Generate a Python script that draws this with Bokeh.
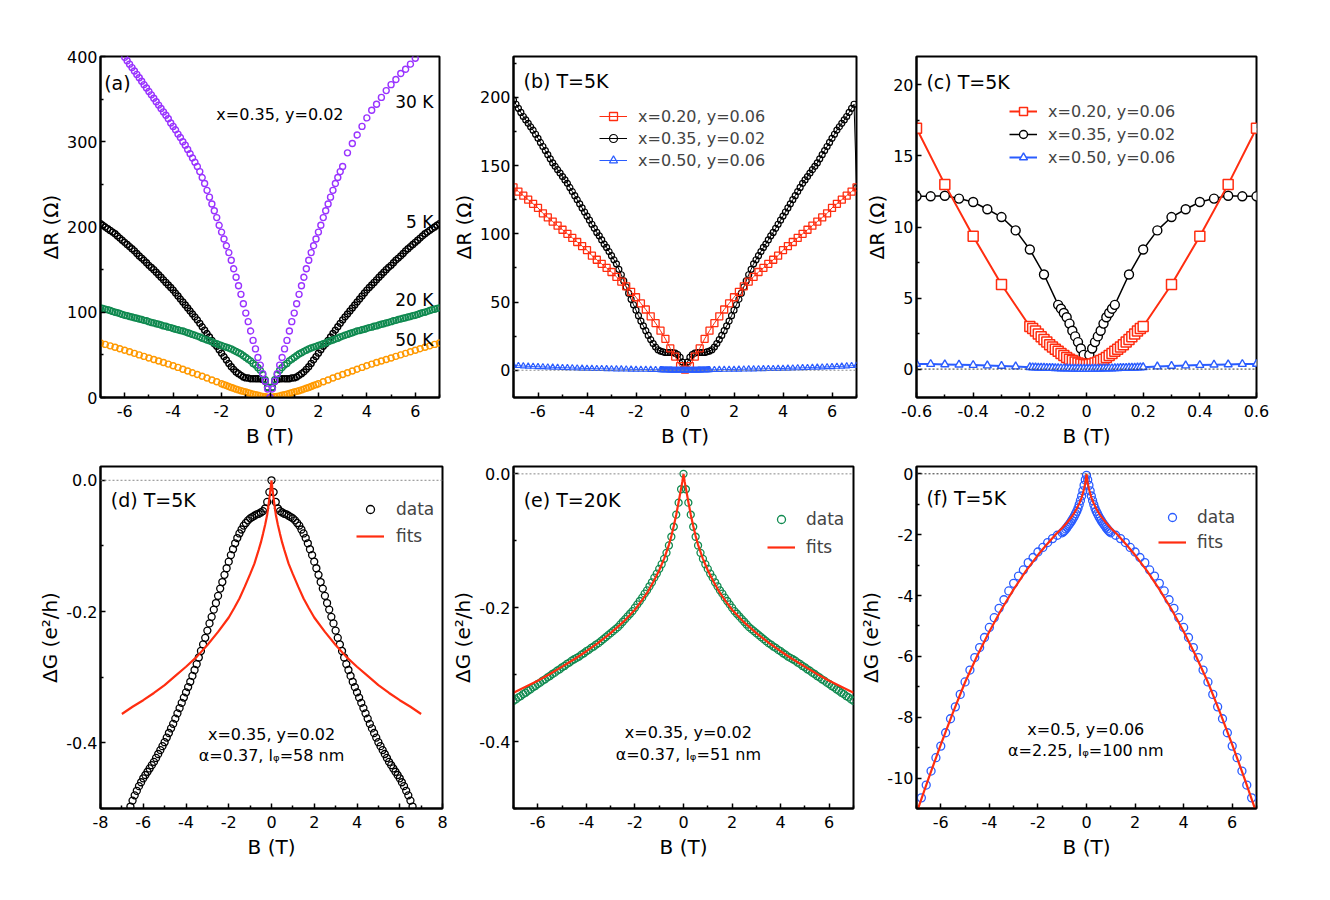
from bokeh.plotting import figure
from bokeh.models import (Range1d, FixedTicker, CustomJSTickFormatter, Label,
                          Legend, LegendItem, Span)
from bokeh.layouts import row, column
from bokeh.embed import file_html
from bokeh.resources import INLINE

FONT = "DejaVu Sans"
PURPLE = "#9933FF"
BLACK = "#000000"
GREEN = "#108A50"
ORANGE = "#FF9900"
RED = "#FF2D10"
BLUE = "#2A5CFF"


def steps(a, b, d):
    n = int(round((b - a) / d))
    return [round(a + i * d, 4) for i in range(n + 1)]


def mirror(bpos, vpos):
    # the field sweeps are symmetric in B: negative half = reflection of the read positive half
    assert len(bpos) == len(vpos), (len(bpos), len(vpos))
    xs = [-b for b in bpos[:0:-1]] + list(bpos)
    ys = list(vpos[:0:-1]) + list(vpos)
    return xs, ys


# ---------------- panel (a): x=0.35, y=0.02, four temperatures ----------------
A_B_HALF = steps(0, 7, 0.1)
A_5K_HALF = [0, 12, 19, 21, 22, 22, 22, 22, 22, 23,
             23, 24, 26, 28, 30, 33, 36, 40, 44, 48,
             52, 56, 60, 63, 67, 71, 75, 79, 83, 87,
             91, 94.5, 98, 101.5, 105, 108.5, 112, 115.5, 119, 122.5,
             126, 129, 132, 135, 138, 141, 144, 147, 150, 152.5,
             155, 158, 161, 163.5, 166, 169, 172, 174.5, 177, 179.5,
             182, 184.5, 187, 189.5, 192, 194, 196, 198, 200, 202,
             204]
A_20K_HALF = [0, 12, 21, 27, 32, 35, 38, 40, 43, 45,
              47, 49, 51, 52.5, 54, 55.5, 57, 58, 59, 60,
              61, 62, 63, 64, 65.5, 66.5, 67.5, 68.5, 69.5, 71,
              72, 73, 74, 75, 76, 77, 78, 78.5, 79.5, 80,
              81, 82, 82.5, 83.5, 84, 85, 86, 86.5, 87.5, 88,
              89, 90, 90.5, 91.5, 92, 93, 93.5, 94.5, 95, 96,
              96.5, 97.5, 98.5, 99.5, 100, 101, 102, 103, 103.5, 104.5,
              105]
A_50K_B_HALF = steps(0, 2, 0.1) + steps(2.2, 7, 0.2)
A_50K_HALF = [0, 0.3, 0.8, 1.3, 1.9, 2.6, 3.3, 4.0, 4.8, 5.6,
              6.4, 7.2, 8.0, 8.9, 9.8, 10.8, 11.8, 12.9, 14.0, 15.1, 16.2,
              18.5, 20.6, 22.8, 25.0, 27.0, 29.0, 31.1, 33.2, 35.3, 37.3,
              39.2, 41.0, 42.8, 44.6, 46.4, 48.2, 50.0, 51.8, 53.6, 55.5,
              57.2, 58.9, 60.6, 62.3, 64.0]
A_30K_B_LEFT = steps(-6.0, -3.1, 0.1)
A_30K_LEFT = [399, 395, 391, 387, 383, 379, 375, 371, 367, 363,
              359, 355, 351, 347, 343, 339, 335, 331, 327, 322,
              318, 314, 309, 305, 300, 296, 291, 286, 281, 276]
A_30K_B_CENTER_HALF = steps(0, 3, 0.1)
A_30K_CENTER_HALF = [0, 10, 19, 28, 38, 47, 57, 67, 78, 89,
                     99, 110, 121, 131, 141, 151, 161, 170, 178, 186,
                     194, 202, 211, 219, 227, 235, 243, 251, 258, 265,
                     271]
A_30K_B_RIGHT = steps(3.2, 6.0, 0.2)
A_30K_RIGHT = [287, 298, 308, 318, 328, 337, 344, 352, 360, 367,
               373, 380, 385, 391, 398]
A_TEMPS = ["30 K", "5 K", "20 K", "50 K"]

# ---------------- panel (b): T = 5 K, three compositions ----------------
SAMPLES = ["x=0.20, y=0.06", "x=0.35, y=0.02", "x=0.50, y=0.06"]
B_RED_B_HALF = steps(0, 7, 0.2)
B_RED_HALF = [0.5, 3, 10, 16, 23, 29, 34.5, 39.5, 44.5, 49,
              53.5, 57.5, 61.5, 65, 68.5, 72, 75, 78, 81, 84,
              88, 91, 94, 97, 100, 103, 106, 109, 112, 115,
              119, 122, 125, 128, 131, 134]
B_BLACK_B_HALF = steps(0, 6.9, 0.1)
B_BLACK_HALF = [3, 6, 9.5, 11.5, 12.5, 13, 13, 13, 13, 13.5,
                14, 15, 17, 19.5, 22.5, 25.5, 29, 32.5, 36, 40,
                44, 48, 52, 56.5, 61, 65.5, 70, 74, 78, 81,
                84, 87, 90, 92.5, 95.5, 98.5, 101, 104, 107, 110,
                113, 116, 119, 122, 125, 128, 131, 134, 137, 139.5,
                142, 144.5, 147, 149.5, 152, 155, 158, 161, 164, 167,
                170, 173, 176, 178.5, 181, 183.5, 186, 189, 192, 195]
B_BLACK_END_B = [-7.0, 7.0]
B_BLACK_END_V = [198, 134]
B_BLUE_B_HALF = steps(0, 1, 0.05) + steps(1.2, 7, 0.2)
B_BLUE_HALF = [0, 0, 0, 0, 0, 0, 0, 0, 0.05, 0.05,
               0.05, 0.1, 0.1, 0.1, 0.15, 0.15, 0.2, 0.2, 0.25, 0.25, 0.3,
               0.4, 0.45, 0.5, 0.55, 0.6, 0.65, 0.7, 0.8, 0.85, 0.9,
               1.0, 1.05, 1.1, 1.2, 1.3, 1.4, 1.5, 1.6, 1.75, 1.85,
               2.0, 2.1, 2.25, 2.4, 2.5, 2.7, 2.85, 3.05, 3.25, 3.5]

# ---------------- panel (c): T = 5 K, low field ----------------
C_RED_B_HALF = steps(0, 0.2, 0.01) + [0.3, 0.4, 0.5, 0.6]
C_RED_HALF = [0.3, 0.32, 0.36, 0.42, 0.5, 0.6, 0.7, 0.82, 0.95, 1.1,
              1.25, 1.4, 1.55, 1.72, 1.9, 2.08, 2.27, 2.47, 2.68, 2.85, 3.0,
              5.95, 9.35, 13.0, 16.95]
C_BLACK_B_HALF = steps(0, 0.1, 0.01) + steps(0.15, 0.6, 0.05)
C_BLACK_HALF = [0.4, 1.0, 1.45, 1.9, 2.3, 2.7, 3.2, 3.65, 3.95, 4.25, 4.52,
                6.66, 8.42, 9.76, 10.7, 11.25, 11.76, 12.0, 12.2, 12.16, 12.16]
C_BLUE_B_HALF = steps(0, 0.2, 0.01) + steps(0.25, 0.6, 0.05)
C_BLUE_HALF = [0.02, 0.02, 0.02, 0.03, 0.03, 0.03, 0.04, 0.04, 0.05, 0.05,
               0.06, 0.06, 0.07, 0.08, 0.08, 0.09, 0.1, 0.1, 0.11, 0.12, 0.13,
               0.18, 0.22, 0.25, 0.28, 0.31, 0.33, 0.35, 0.36]

# ---------------- panels (d)-(f): magnetoconductance and fits ----------------
FIT_B_HALF = [0, 0.05, 0.1, 0.2, 0.3, 0.4, 0.5, 0.6, 0.8, 1.0, 1.25, 1.5,
              1.75, 2.0, 2.5, 3.0, 3.5, 4.0, 4.5, 5.0, 5.5, 6.0, 6.5, 7.0]
D_B_HALF = steps(0, 6.6, 0.1)
D_DATA_HALF = [0, -0.018, -0.033, -0.043, -0.047, -0.049, -0.051, -0.052, -0.054, -0.056,
               -0.058, -0.061, -0.065, -0.069, -0.075, -0.081, -0.088, -0.096, -0.105, -0.114,
               -0.124, -0.134, -0.144, -0.155, -0.165, -0.176, -0.187, -0.197, -0.208, -0.218,
               -0.229, -0.240, -0.250, -0.260, -0.270, -0.280, -0.289, -0.298, -0.307, -0.315,
               -0.323, -0.331, -0.339, -0.347, -0.355, -0.363, -0.371, -0.378, -0.385, -0.392,
               -0.399, -0.405, -0.411, -0.417, -0.423, -0.429, -0.434, -0.439, -0.444, -0.449,
               -0.454, -0.460, -0.466, -0.473, -0.480, -0.488, -0.497]
D_FIT_HALF = [0, -0.015, -0.028, -0.052, -0.068, -0.082, -0.095, -0.106, -0.127, -0.143,
              -0.162, -0.18, -0.195, -0.209, -0.231, -0.251, -0.269, -0.284, -0.298, -0.312,
              -0.324, -0.335, -0.345, -0.356]
E_B_HALF = steps(0, 7, 0.1)
E_DATA_HALF = [0, -0.023, -0.043, -0.061, -0.079, -0.094, -0.107, -0.118, -0.127, -0.135,
               -0.142, -0.149, -0.155, -0.162, -0.168, -0.174, -0.179, -0.185, -0.190, -0.195,
               -0.200, -0.205, -0.209, -0.213, -0.217, -0.221, -0.225, -0.229, -0.232, -0.235,
               -0.238, -0.241, -0.244, -0.247, -0.250, -0.253, -0.255, -0.258, -0.260, -0.263,
               -0.265, -0.268, -0.270, -0.273, -0.275, -0.277, -0.279, -0.282, -0.284, -0.287,
               -0.289, -0.292, -0.294, -0.297, -0.299, -0.302, -0.304, -0.307, -0.309, -0.312,
               -0.314, -0.317, -0.319, -0.322, -0.324, -0.327, -0.329, -0.332, -0.334, -0.337,
               -0.339]
E_FIT_HALF = [0, -0.012, -0.022, -0.042, -0.061, -0.078, -0.093, -0.106, -0.127, -0.144,
              -0.162, -0.178, -0.191, -0.203, -0.222, -0.238, -0.252, -0.265, -0.277, -0.288,
              -0.299, -0.309, -0.318, -0.327]
F_B_HALF = steps(0, 1, 0.05) + steps(1.2, 6.8, 0.2)
F_DATA_HALF = [-0.05, -0.2, -0.38, -0.56, -0.73, -0.88, -1.01, -1.13, -1.23, -1.31,
               -1.39, -1.46, -1.53, -1.59, -1.65, -1.70, -1.76, -1.81, -1.86, -1.90, -1.94,
               -2.02, -2.13, -2.26, -2.42, -2.57, -2.75, -2.92, -3.16, -3.36, -3.60,
               -3.85, -4.14, -4.42, -4.73, -5.05, -5.38, -5.71, -6.04, -6.45, -6.84,
               -7.25, -7.66, -8.05, -8.51, -8.95, -9.33, -9.77, -10.23, -10.65]
F_FIT_HALF = [0, -0.3, -0.5, -0.78, -0.98, -1.14, -1.28, -1.4, -1.6, -1.78,
              -1.98, -2.2, -2.43, -2.67, -3.2, -3.8, -4.45, -5.18, -5.98, -6.85,
              -7.85, -8.9, -10.0, -11.15]

# ---------------- ticks ----------------
X7_T, X7_M = [-6, -4, -2, 0, 2, 4, 6], [-7, -5, -3, -1, 1, 3, 5, 7]
X8_T, X8_M = [-8, -6, -4, -2, 0, 2, 4, 6, 8], [-7, -5, -3, -1, 1, 3, 5, 7]
A_YT, A_YM = [0, 100, 200, 300, 400], [50, 150, 250, 350]
B_YT, B_YM = [0, 50, 100, 150, 200], [-25, 25, 75, 125, 175, 225]
C_XT, C_XM = [-0.6, -0.4, -0.2, 0, 0.2, 0.4, 0.6], [-0.5, -0.3, -0.1, 0.1, 0.3, 0.5]
C_YT, C_YM = [0, 5, 10, 15, 20], [2.5, 7.5, 12.5, 17.5]
G_YT, G_YM = [-0.4, -0.2, 0.0], [-0.5, -0.3, -0.1]
F_YT, F_YM = [-10, -8, -6, -4, -2, 0], [-11, -9, -7, -5, -3, -1]


def fmt(decimals, zero=None):
    if zero is None:
        return CustomJSTickFormatter(code=f"return tick.toFixed({decimals});")
    return CustomJSTickFormatter(
        code=f"return Math.abs(tick) < 1e-9 ? '{zero}' : tick.toFixed({decimals});")


def panel(xr, yr, bl, br, bt, bb, fw, fh, xt, xm, yt, ym, xf, yf, ylabel):
    p = figure(width=bl + fw + br, height=bt + fh + bb,
               x_range=Range1d(*xr), y_range=Range1d(*yr),
               output_backend="svg", toolbar_location=None,
               min_border_left=bl, min_border_right=br,
               min_border_top=bt, min_border_bottom=bb)
    p.grid.visible = False
    p.background_fill_color = "white"
    p.border_fill_color = "white"
    p.outline_line_color = "black"
    p.outline_line_width = 2
    p.outline_line_alpha = 1
    for ax, t, m, f in ((p.xaxis[0], xt, xm, xf), (p.yaxis[0], yt, ym, yf)):
        ax.ticker = FixedTicker(ticks=t, minor_ticks=m)
        ax.formatter = f
        ax.major_tick_in = 5
        ax.major_tick_out = 0
        ax.minor_tick_in = 3
        ax.minor_tick_out = 0
        ax.major_tick_line_width = 1.5
        ax.minor_tick_line_width = 1.5
        ax.axis_line_width = 2
        ax.major_label_text_font = FONT
        ax.major_label_text_font_size = "16px"
        ax.major_label_text_color = "black"
        ax.axis_label_text_font = FONT
        ax.axis_label_text_font_size = "20px"
        ax.axis_label_text_font_style = "normal"
        ax.axis_label_text_color = "black"
    p.xaxis.axis_label = "B (T)"
    p.yaxis.axis_label = ylabel
    p.xaxis.major_label_standoff = 7
    p.xaxis.axis_label_standoff = 4
    p.yaxis.major_label_standoff = 3
    p.yaxis.axis_label_standoff = 1
    return p


def text(p, x, y, s, size, align="left"):
    p.add_layout(Label(x=x, y=y, text=s, text_font=FONT, text_font_size=size,
                       text_align=align, text_baseline="middle", text_color="black"))


def legend(p, items, loc, spacing, size, standoff=11):
    lg = Legend(items=items, location=loc, glyph_width=28, glyph_height=20,
                label_height=20, label_standoff=standoff, spacing=spacing,
                padding=0, margin=0, border_line_alpha=0, background_fill_alpha=0,
                label_text_font=FONT, label_text_font_size=size)
    p.add_layout(lg)


def zero_line(p, color):
    p.add_layout(Span(location=0, dimension="width", line_color=color,
                      line_dash="2 2", line_width=1))


OHM = "\u0394R (\u03a9)"
GLAB = "\u0394G (e\u00b2/h)"

# ---------------- (a) ----------------
pa = panel((-7, 7), (0, 400), 100, 8, 56, 55, 339, 341, X7_T, X7_M, A_YT, A_YM,
           fmt(0), fmt(0), OHM)
x, y = mirror(A_B_HALF, A_5K_HALF)
pa.scatter(x, y, marker="circle", size=6, line_color=BLACK, fill_color=None, line_width=1.4)
x, y = mirror(A_B_HALF, A_20K_HALF)
pa.scatter(x, y, marker="circle", size=6, line_color=GREEN, fill_color=None, line_width=1.4)
x, y = mirror(A_50K_B_HALF, A_50K_HALF)
pa.scatter(x, y, marker="circle", size=6, line_color=ORANGE, fill_color=None, line_width=1.4)
xc, yc = mirror(A_30K_B_CENTER_HALF, A_30K_CENTER_HALF)
assert len(A_30K_B_LEFT) == len(A_30K_LEFT) and len(A_30K_B_RIGHT) == len(A_30K_RIGHT)
x = A_30K_B_LEFT + xc + A_30K_B_RIGHT
y = A_30K_LEFT + yc + A_30K_RIGHT
pa.scatter(x, y, marker="circle", size=6, line_color=PURPLE, fill_color=None, line_width=1.4)
text(pa, -6.85, 369, "(a)", "19px")
text(pa, 0.41, 332, "x=0.35, y=0.02", "16px", "center")
for lab, yy in zip(A_TEMPS, [347, 206, 114, 67]):
    text(pa, 6.75, yy, lab, "17px", "right")

# ---------------- (b) ----------------
pb = panel((-7, 7), (-20, 230), 66, 6, 56, 55, 343, 341, X7_T, X7_M, B_YT, B_YM,
           fmt(0), fmt(0), OHM)
zero_line(pb, "#888888")
x, y = mirror(B_BLACK_B_HALF, B_BLACK_HALF)
x = [B_BLACK_END_B[0]] + x + [B_BLACK_END_B[1]]
y = [B_BLACK_END_V[0]] + y + [B_BLACK_END_V[1]]
bl_l = pb.line(x, y, line_color=BLACK, line_width=1)
bl_s = pb.scatter(x, y, marker="circle", size=6, line_color=BLACK, fill_color=None, line_width=1.2)
x, y = mirror(B_RED_B_HALF, B_RED_HALF)
rd_l = pb.line(x, y, line_color=RED, line_width=1)
rd_s = pb.scatter(x, y, marker="square", size=7, line_color=RED, fill_color=None, line_width=1.3)
x, y = mirror(B_BLUE_B_HALF, B_BLUE_HALF)
bu_l = pb.line(x, y, line_color=BLUE, line_width=1)
bu_s = pb.scatter(x, y, marker="triangle", size=6, line_color=BLUE, fill_color=None, line_width=1.2)
legend(pb, [LegendItem(label=SAMPLES[0], renderers=[rd_l, rd_s]),
            LegendItem(label=SAMPLES[1], renderers=[bl_l, bl_s]),
            LegendItem(label=SAMPLES[2], renderers=[bu_l, bu_s])], (86, 227), 2, "16px")
text(pb, -6.59, 212, "(b) T=5K", "19px")

# ---------------- (c) ----------------
pc = panel((-0.6, 0.6), (-2, 22), 53, 20, 56, 55, 341, 341, C_XT, C_XM, C_YT, C_YM,
           fmt(1, "0"), fmt(0), OHM)
zero_line(pc, "#333333")
x, y = mirror(C_BLACK_B_HALF, C_BLACK_HALF)
cb_l = pc.line(x, y, line_color=BLACK, line_width=1.5)
cb_s = pc.scatter(x, y, marker="circle", size=9, line_color=BLACK, fill_color="white", line_width=1.4)
x, y = mirror(C_RED_B_HALF, C_RED_HALF)
cr_l = pc.line(x, y, line_color=RED, line_width=2)
cr_s = pc.scatter(x, y, marker="square", size=10, line_color=RED, fill_color="white", line_width=1.5)
x, y = mirror(C_BLUE_B_HALF, C_BLUE_HALF)
cu_l = pc.line(x, y, line_color=BLUE, line_width=2)
cu_s = pc.scatter(x, y, marker="triangle", size=8, line_color=BLUE, fill_color="white", line_width=1.4)
legend(pc, [LegendItem(label=SAMPLES[0], renderers=[cr_l, cr_s]),
            LegendItem(label=SAMPLES[1], renderers=[cb_l, cb_s]),
            LegendItem(label=SAMPLES[2], renderers=[cu_l, cu_s])], (93, 230), 3, "16px")
text(pc, -0.565, 20.2, "(c) T=5K", "19px")

# ---------------- (d) ----------------
pd_ = panel((-8, 8), (-0.5, 0.021), 100, 6, 14, 55, 342, 342, X8_T, X8_M, G_YT, G_YM,
            fmt(0), fmt(1), GLAB)
zero_line(pd_, "#888888")
x, y = mirror(D_B_HALF, D_DATA_HALF)
d_s = pd_.scatter(x, y, marker="circle", size=7, line_color=BLACK, fill_color=None, line_width=1.3)
x, y = mirror(FIT_B_HALF, D_FIT_HALF)
d_l = pd_.line(x, y, line_color=RED, line_width=2.2)
legend(pd_, [LegendItem(label="data", renderers=[d_s]),
             LegendItem(label="fits", renderers=[d_l])], (256, 262), 7, "17px", 12)
text(pd_, -7.52, -0.03, "(d) T=5K", "19px")
text(pd_, 0, -0.387, "x=0.35, y=0.02", "16px", "center")
text(pd_, 0, -0.42, "\u03b1=0.37, l\u1d69=58 nm", "16px", "center")

# ---------------- (e) ----------------
pe = panel((-7, 7), (-0.5, 0.011), 64, 3, 14, 55, 341, 342, X7_T, X7_M, G_YT, G_YM,
           fmt(0), fmt(1), GLAB)
zero_line(pe, "#888888")
x, y = mirror(E_B_HALF, E_DATA_HALF)
e_s = pe.scatter(x, y, marker="circle", size=7, line_color=GREEN, fill_color=None, line_width=1.3)
x, y = mirror(FIT_B_HALF, E_FIT_HALF)
e_l = pe.line(x, y, line_color=RED, line_width=2.2)
legend(pe, [LegendItem(label="data", renderers=[e_s]),
            LegendItem(label="fits", renderers=[e_l])], (254, 251), 8, "17px")
text(pe, -6.58, -0.0385, "(e) T=20K", "19px")
text(pe, 0.2, -0.386, "x=0.35, y=0.02", "16px", "center")
text(pe, 0.2, -0.419, "\u03b1=0.37, l\u1d69=51 nm", "16px", "center")

# ---------------- (f) ----------------
pf = panel((-7, 7), (-11, 0.24), 58, 20, 14, 55, 342, 342, X7_T, X7_M, F_YT, F_YM,
           fmt(0), fmt(0), GLAB)
zero_line(pf, "#333333")
x, y = mirror(F_B_HALF, F_DATA_HALF)
f_s = pf.scatter(x, y, marker="circle", size=8, line_color=BLUE, fill_color=None, line_width=1.3)
x, y = mirror(FIT_B_HALF, F_FIT_HALF)
f_l = pf.line(x, y, line_color=RED, line_width=2.2)
legend(pf, [LegendItem(label="data", renderers=[f_s]),
            LegendItem(label="fits", renderers=[f_l])], (242, 256), 5, "17px")
text(pf, -6.59, -0.8, "(f) T=5K", "19px")
text(pf, -0.03, -8.39, "x=0.5, y=0.06", "16px", "center")
text(pf, -0.03, -9.1, "\u03b1=2.25, l\u1d69=100 nm", "16px", "center")

layout = column(row(pa, pb, pc), row(pd_, pe, pf))
open("out.html", "w").write(file_html(layout, INLINE))
